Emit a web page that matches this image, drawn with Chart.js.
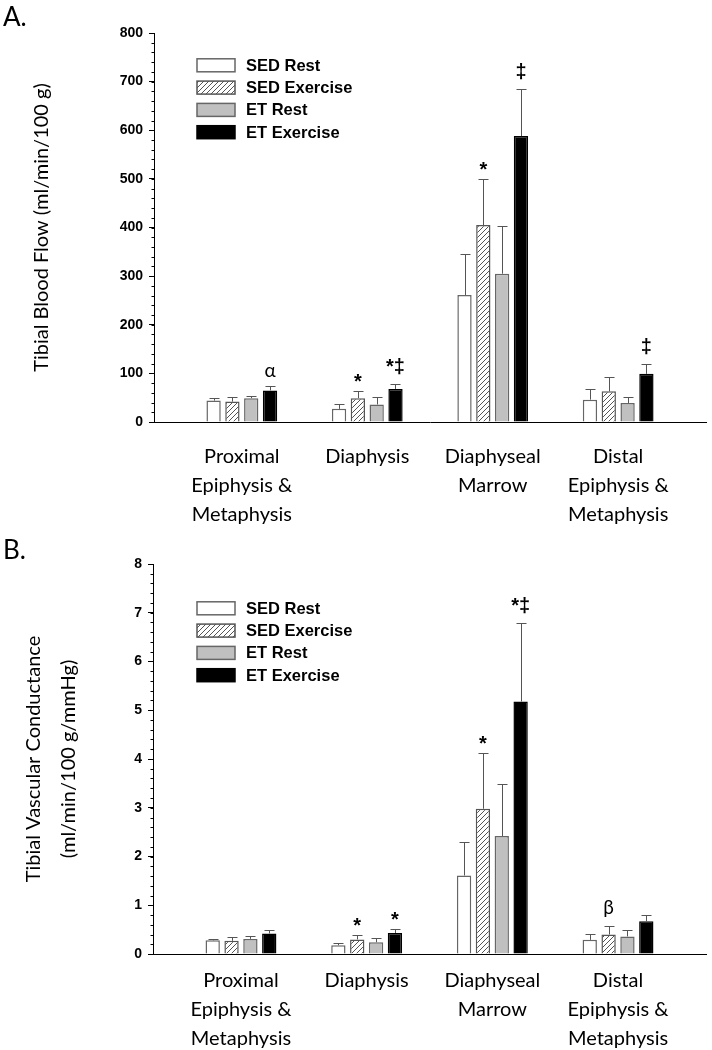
<!DOCTYPE html>
<html>
<head>
<meta charset="utf-8">
<script src="https://cdn.jsdelivr.net/npm/chart.js@4.4.0/dist/chart.umd.min.js"></script>
<style>
  body { margin: 0; background: #fff; }
  .panel { position: relative; width: 712px; }
  .tag { position: absolute; left: 3px; font: 26px Lato, sans-serif; color: #000; }
  canvas { display: block; }
</style>
</head>
<body>
<div class="panel" style="height:530px">
  <div class="tag" style="top:0px">A.</div>
  <canvas id="flowChart" width="712" height="530"></canvas>
</div>
<div class="panel" style="height:520px">
  <div class="tag" style="top:3px">B.</div>
  <canvas id="condChart" width="712" height="520"></canvas>
</div>
<script>
// categories and groups
const regions = [
  ['Proximal', 'Epiphysis &', 'Metaphysis'],
  ['Diaphysis'],
  ['Diaphyseal', 'Marrow'],
  ['Distal', 'Epiphysis &', 'Metaphysis']
];
const groups = ['SED Rest', 'SED Exercise', 'ET Rest', 'ET Exercise'];

// Tibial blood flow (ml/min/100 g), mean and SE
const flowSedRest = [44, 27, 261, 46];
const flowSedRestSE = [5, 10, 84, 22];
const flowSedEx = [42, 49, 405, 63];
const flowSedExSE = [9, 14, 95, 30];
const flowEtRest = [49, 36, 305, 39];
const flowEtRestSE = [5, 15, 98, 12];
const flowEtEx = [65, 68, 588, 99];
const flowEtExSE = [9, 11, 97, 21];
const flowSedExMarks = ['', '*', '*', ''];
const flowEtExMarks = ['\u03b1', '*\u2021', '\u2021', '\u2021'];
const flowTicks = [0, 100, 200, 300, 400, 500, 600, 700, 800];

// Tibial vascular conductance (ml/min/100 g/mmHg), mean and SE
const condSedRest = [0.28, 0.18, 1.61, 0.29];
const condSedRestSE = [0.03, 0.05, 0.68, 0.13];
const condSedEx = [0.27, 0.30, 2.98, 0.40];
const condSedExSE = [0.07, 0.10, 1.15, 0.18];
const condEtRest = [0.31, 0.24, 2.42, 0.36];
const condEtRestSE = [0.05, 0.09, 1.07, 0.14];
const condEtEx = [0.42, 0.43, 5.18, 0.67];
const condEtExSE = [0.07, 0.09, 1.62, 0.14];
const condSedExMarks = ['', '*', '*', '\u03b2'];
const condEtExMarks = ['', '*', '*\u2021', ''];
const condTicks = [0, 1, 2, 3, 4, 5, 6, 7, 8];

// hatch pattern for SED Exercise
function makeHatch() {
  const c = document.createElement('canvas');
  c.width = 5; c.height = 5;
  const g = c.getContext('2d');
  g.fillStyle = '#fff';
  g.fillRect(0, 0, 5, 5);
  g.strokeStyle = '#555';
  g.lineWidth = 1;
  g.beginPath();
  g.moveTo(-1, 6); g.lineTo(6, -1);
  g.moveTo(-6, 6); g.lineTo(1, -1);
  g.moveTo(4, 6); g.lineTo(11, -1);
  g.stroke();
  return g.createPattern(c, 'repeat');
}
const hatch = makeHatch();

const styles = [
  { bg: '#ffffff', border: '#666666' },
  { bg: hatch, border: '#555555' },
  { bg: '#c0c0c0', border: '#666666' },
  { bg: '#000000', border: '#000000' }
];

function toPoints(arr) {
  return arr.map((v, i) => ({ x: i + 1, y: v }));
}

function makeDatasets(series, errors, marks) {
  return series.map((s, k) => ({
    label: groups[k],
    data: toPoints(s),
    errors: errors[k],
    marks: marks[k],
    backgroundColor: styles[k].bg,
    borderColor: styles[k].border,
    borderWidth: 1.5,
    categoryPercentage: 0.6,
    barPercentage: 0.76
  }));
}

// error bars + significance marks
const errorBars = {
  id: 'errorBars',
  afterDatasetsDraw(chart) {
    const ctx = chart.ctx;
    const yScale = chart.scales.y;
    chart.data.datasets.forEach((ds, k) => {
      const meta = chart.getDatasetMeta(k);
      meta.data.forEach((bar, i) => {
        const top = yScale.getPixelForValue(ds.data[i].y + ds.errors[i]);
        const x = Math.round(bar.x) + 0.5;
        ctx.save();
        ctx.strokeStyle = '#555';
        ctx.lineWidth = 1;
        ctx.beginPath();
        ctx.moveTo(x, bar.y);
        ctx.lineTo(x, Math.round(top) + 0.5);
        ctx.moveTo(x - 5, Math.round(top) + 0.5);
        ctx.lineTo(x + 5, Math.round(top) + 0.5);
        ctx.stroke();
        const mark = ds.marks && ds.marks[i];
        if (mark) {
          const greek = /[\u03b1\u03b2]/.test(mark);
          ctx.font = greek ? '19px Lato' : 'bold 20px "Liberation Sans"';
          ctx.fillStyle = '#000';
          ctx.textAlign = 'center';
          ctx.textBaseline = 'alphabetic';
          const m = ctx.measureText(mark);
          ctx.fillText(mark, bar.x, top - 9 - m.actualBoundingBoxDescent);
        }
        ctx.restore();
      });
    });
  }
};

// minor ticks on the y axis
const minorTicks = {
  id: 'minorTicks',
  afterDraw(chart, args, opts) {
    const y = chart.scales.y;
    const ctx = chart.ctx;
    const x0 = Math.round(y.right) + 0.5;
    ctx.save();
    ctx.strokeStyle = '#000';
    ctx.lineWidth = 1;
    ctx.beginPath();
    for (let v = y.min; v <= y.max + 1e-9; v += opts.step) {
      const py = Math.round(y.getPixelForValue(v)) + 0.5;
      ctx.moveTo(x0 - 3, py);
      ctx.lineTo(x0, py);
    }
    ctx.stroke();
    ctx.restore();
  }
};

// legend in the upper-left part of the plot
const boxLegend = {
  id: 'boxLegend',
  afterDraw(chart, args, opts) {
    const ctx = chart.ctx;
    chart.data.datasets.forEach((ds, k) => {
      const cy = opts.top + k * 22.3;
      ctx.save();
      ctx.fillStyle = ds.backgroundColor;
      ctx.fillRect(opts.left, cy - 6.5, 38, 13);
      ctx.strokeStyle = ds.borderColor;
      ctx.lineWidth = 1.5;
      ctx.strokeRect(opts.left, cy - 6.5, 38, 13);
      ctx.fillStyle = '#000';
      ctx.font = 'bold 16.5px "Liberation Sans"';
      ctx.textBaseline = 'middle';
      ctx.fillText(ds.label, opts.left + 49, cy + 1);
      ctx.restore();
    });
  }
};

function makeChart(id, cfg) {
  return new Chart(document.getElementById(id), {
    type: 'bar',
    data: { datasets: cfg.datasets },
    plugins: [errorBars, minorTicks, boxLegend],
    options: {
      responsive: false,
      animation: false,
      layout: { padding: { top: cfg.top, right: 6, left: 0, bottom: 0 } },
      plugins: {
        legend: { display: false },
        tooltip: { enabled: false },
        minorTicks: { step: cfg.minor },
        boxLegend: { left: 197, top: cfg.legendTop }
      },
      scales: {
        x: {
          type: 'linear',
          min: 0.3,
          max: 4.7,
          offset: false,
          afterBuildTicks: s => { s.ticks = regions.map((r, i) => ({ value: i + 1 })); },
          afterFit: s => { s.height = cfg.xHeight; },
          grid: { display: false, drawTicks: false, offset: false },
          border: { display: true, color: '#000', width: 1 },
          ticks: {
            padding: cfg.xPad,
            maxRotation: 0,
            autoSkip: false,
            color: '#000',
            font: { family: 'Lato', size: 20, lineHeight: 1.45 },
            callback: v => regions[v - 1]
          }
        },
        y: {
          min: cfg.yTicks[0],
          max: cfg.yTicks[cfg.yTicks.length - 1],
          afterBuildTicks: s => { s.ticks = cfg.yTicks.map(v => ({ value: v })); },
          afterFit: s => { s.width = cfg.yWidth; },
          grid: { drawOnChartArea: false, drawTicks: true, tickLength: 5, color: '#000' },
          border: { display: true, color: '#000', width: 1 },
          ticks: {
            padding: 6,
            color: '#000',
            font: { family: 'Liberation Sans', size: 14, weight: 'bold' }
          },
          title: {
            display: true,
            text: cfg.title,
            color: '#000',
            font: { family: 'Lato', size: 20, lineHeight: cfg.titleLH },
            padding: { top: cfg.titlePad, bottom: 0 }
          }
        }
      }
    }
  });
}

makeChart('flowChart', {
  datasets: makeDatasets(
    [flowSedRest, flowSedEx, flowEtRest, flowEtEx],
    [flowSedRestSE, flowSedExSE, flowEtRestSE, flowEtExSE],
    [[], flowSedExMarks, [], flowEtExMarks]
  ),
  yTicks: flowTicks,
  minor: 20,
  top: 33,
  xHeight: 108,
  xPad: 20,
  yWidth: 154,
  legendTop: 65.3,
  title: 'Tibial Blood Flow (ml/min/100 g)',
  titleLH: 1.2,
  titlePad: 30
});

makeChart('condChart', {
  datasets: makeDatasets(
    [condSedRest, condSedEx, condEtRest, condEtEx],
    [condSedRestSE, condSedExSE, condEtRestSE, condEtExSE],
    [[], condSedExMarks, [], condEtExMarks]
  ),
  yTicks: condTicks,
  minor: 0.2,
  top: 34,
  xHeight: 96,
  xPad: 12,
  yWidth: 153,
  legendTop: 78.3,
  title: ['Tibial Vascular Conductance', '(ml/min/100 g/mmHg)'],
  titleLH: 1.75,
  titlePad: 16
});
</script>
</body>
</html>
